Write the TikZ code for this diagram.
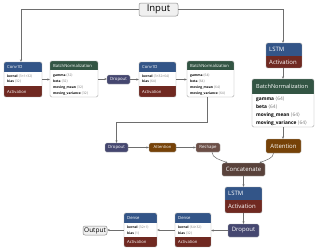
\documentclass[tikz,border=0pt]{standalone}
\usepackage{fontspec}
\setmainfont{Open Sans}
\newfontfamily\symf{DejaVu Sans}
\usetikzlibrary{arrows.meta,fit}
\definecolor{clayer}{RGB}{51,85,136}
\definecolor{cact}{RGB}{112,41,33}
\definecolor{cnorm}{RGB}{51,85,68}
\definecolor{cdrop}{RGB}{69,71,112}
\definecolor{cattn}{RGB}{118,66,8}
\definecolor{ctensor}{RGB}{89,66,59}
\definecolor{cshape}{RGB}{108,79,71}
\definecolor{cline}{RGB}{110,110,110}
\definecolor{cval}{RGB}{120,120,120}
\newcommand\la{{\symf\char"27E8}}
\newcommand\ra{{\symf\char"27E9}}
\newcommand\rw[2]{\textbf{#1}~{\color{cval}\la#2\ra}}
% name, x1, y1, x2, y2, header bottom, footer top, header colour, footer colour
\newcommand\blk[9]{%
  \coordinate (#1-nw) at (#2,#3);
  \coordinate (#1-se) at (#4,#5);
  \node[fit=(#1-nw)(#1-se), inner sep=0pt] (#1) {};
  \begin{scope}
    \clip[rounded corners=1.5pt] (#2,#3) rectangle (#4,#5);
    \fill[white] (#2,#3) rectangle (#4,#5);
    \fill[#8] (#2,#3) rectangle (#4,#6);
    \fill[#9] (#2,#7) rectangle (#4,#5);
  \end{scope}
  \draw[blkline] (#2,#3) rectangle (#4,#5);
}
\begin{document}
\begin{tikzpicture}[x=1pt,y=-1pt,
  blkline/.style={draw=black!35, line width=0.4pt, rounded corners=1.5pt},
  op/.style={rounded corners=1.5pt, text=white, inner sep=0pt, draw=black!30, line width=0.3pt},
  io/.style={rounded corners=2pt, fill=black!6, draw=black!45, line width=0.5pt, inner sep=0pt, text=black},
  hs/.style={text=white, anchor=west, inner sep=0pt, font=\fontsize{4.2}{5}\selectfont},
  hl/.style={text=white, anchor=west, inner sep=0pt, font=\fontsize{6}{7}\selectfont},
  rs/.style={anchor=west, inner sep=0pt, font=\fontsize{3.3}{4}\selectfont},
  rl/.style={anchor=west, inner sep=0pt, font=\fontsize{4.8}{6}\selectfont},
  edge/.style={draw=cline, line width=0.5pt, -{Stealth[length=2.4pt,width=2.1pt]}}]
\useasboundingbox (0,0) rectangle (319,250);
\fill[white] (0,0) rectangle (319,250);

% Input / Output
\node[io, minimum width=39pt, minimum height=13pt, font=\fontsize{9.5}{11}\selectfont] (input) at (158.5,9.5) {Input};
\node[io, minimum width=24pt, minimum height=9pt, font=\fontsize{6.5}{8}\selectfont] (output) at (95,230.5) {Output};

% Conv1D 1
\blk{conv1}{4}{62}{42}{97}{72}{86}{clayer}{cact}
\node[hs] (conv1h) at (7,67) {Conv1D};
\node[rs] (conv1r1) at (7,76.3) {\rw{kernel}{3×1×32}};
\node[rs] (conv1r2) at (7,81.7) {\rw{bias}{32}};
\node[hs] (conv1f) at (7,91.5) {Activation};

% BatchNormalization 1
\blk{bn1}{50}{61}{98}{97}{70}{97}{cnorm}{white}
\node[hs] (bn1h) at (53,65.5) {BatchNormalization};
\node[rs] (bn1r1) at (53,75.5) {\rw{gamma}{32}};
\node[rs] (bn1r2) at (53,81.3) {\rw{beta}{32}};
\node[rs] (bn1r3) at (53,87.3) {\rw{moving\_mean}{32}};
\node[rs] (bn1r4) at (53,93.3) {\rw{moving\_variance}{32}};

% Dropout 1
\node[op, fill=cdrop, minimum width=23pt, minimum height=9pt, font=\fontsize{4.3}{5}\selectfont] (drop1) at (118.5,79.5) {Dropout};

% Conv1D 2
\blk{conv2}{139}{62}{176}{97}{72}{86}{clayer}{cact}
\node[hs] (conv2h) at (142,67) {Conv1D};
\node[rs] (conv2r1) at (142,76.3) {\rw{kernel}{3×32×64}};
\node[rs] (conv2r2) at (142,81.7) {\rw{bias}{64}};
\node[hs] (conv2f) at (142,91.5) {Activation};

% BatchNormalization 2
\blk{bn2}{187}{61}{234}{97}{70}{97}{cnorm}{white}
\node[hs] (bn2h) at (190,65.5) {BatchNormalization};
\node[rs] (bn2r1) at (190,75.5) {\rw{gamma}{64}};
\node[rs] (bn2r2) at (190,81.3) {\rw{beta}{64}};
\node[rs] (bn2r3) at (190,87.3) {\rw{moving\_mean}{64}};
\node[rs] (bn2r4) at (190,93.3) {\rw{moving\_variance}{64}};

% LSTM 1
\blk{lstm1}{266}{43}{302}{68}{56}{56}{clayer}{cact}
\node[hl] (lstm1h) at (269,49.5) {LSTM};
\node[hl] (lstm1f) at (269,62) {Activation};

% BatchNormalization 3
\blk{bn3}{252}{79}{314}{127}{94}{127}{cnorm}{white}
\node[hl, font=\fontsize{5.6}{7}\selectfont] (bn3h) at (256,86.5) {BatchNormalization};
\node[rl] (bn3r1) at (256,99) {\rw{gamma}{64}};
\node[rl] (bn3r2) at (256,107) {\rw{beta}{64}};
\node[rl] (bn3r3) at (256,115) {\rw{moving\_mean}{64}};
\node[rl] (bn3r4) at (256,123) {\rw{moving\_variance}{64}};

% middle row
\node[op, fill=cdrop, minimum width=23pt, minimum height=9pt, font=\fontsize{4.3}{5}\selectfont] (drop2) at (116.5,147.5) {Dropout};
\node[op, fill=cattn, minimum width=27pt, minimum height=9pt, font=\fontsize{4.1}{5}\selectfont] (att1) at (162.5,147.5) {Attention};
\node[op, fill=cshape, minimum width=24pt, minimum height=9pt, font=\fontsize{4.3}{5}\selectfont] (reshape) at (208,147.5) {Reshape};
\node[op, fill=cattn, minimum width=35pt, minimum height=14pt, font=\fontsize{6}{7}\selectfont] (att2) at (283.5,146) {Attention};
\node[op, fill=ctensor, minimum width=43pt, minimum height=13pt, font=\fontsize{6}{7}\selectfont] (concat) at (243.5,169.5) {Concatenate};

% LSTM 2
\blk{lstm2}{225}{187}{262}{213}{200}{200}{clayer}{cact}
\node[hl] (lstm2h) at (228,193.5) {LSTM};
\node[hl] (lstm2f) at (228,206.5) {Activation};

\node[op, fill=cdrop, minimum width=31pt, minimum height=13pt, font=\fontsize{6}{7}\selectfont] (drop3) at (243.5,230.5) {Dropout};

% Dense 2
\blk{dense2}{175}{213}{211}{247}{223}{237}{clayer}{cact}
\node[hs] (dense2h) at (178,218) {Dense};
\node[rs] (dense2r1) at (178,227) {\rw{kernel}{64×32}};
\node[rs] (dense2r2) at (178,233) {\rw{bias}{32}};
\node[hs] (dense2f) at (178,242) {Activation};

% Dense 1
\blk{dense1}{124}{213}{157}{247}{223}{237}{clayer}{cact}
\node[hs] (dense1h) at (127,218) {Dense};
\node[rs] (dense1r1) at (127,227) {\rw{kernel}{32×1}};
\node[rs] (dense1r2) at (127,233) {\rw{bias}{1}};
\node[hs] (dense1f) at (127,242) {Activation};

% connectors
\draw[edge] (input.west) -| ([xshift=-2pt]conv1.north);
\draw[edge] (input.east) -| ([xshift=-1pt]lstm1.north);
\draw[edge] (conv1.east) -- (conv1.east -| bn1.west);
\draw[edge] (bn1.east) -- (bn1.east -| drop1.west);
\draw[edge] (drop1.east) -- (drop1.east -| conv2.west);
\draw[edge] (conv2.east) -- (conv2.east -| bn2.west);
\draw[edge] ([xshift=-3pt]bn2.south) -- ++(0,25) -| (drop2.north);
\draw[edge] (drop2.east) -- (att1.west);
\draw[edge] (att1.east) -- (reshape.west);
\draw[edge] ([xshift=-1pt]lstm1.south) -- ([xshift=-1pt]lstm1.south |- bn3.north);
\draw[edge] (bn3.south) -- (bn3.south |- att2.north);
\draw[edge] ([xshift=4pt]reshape.south) .. controls +(0,6) and +(-7,-3) .. ([xshift=-16pt]concat.north);
\draw[edge] ([xshift=-10pt]att2.south) .. controls +(0,5) and +(7,-3) .. ([xshift=16pt]concat.north);
\draw[edge] (concat.south) -- (lstm2.north);
\draw[edge] (lstm2.south) -- (drop3.north);
\draw[edge] (drop3.west) -- (drop3.west -| dense2.east);
\draw[edge] (dense2.west) -- (dense2.west -| dense1.east);
\draw[edge] (dense1.west) -- (dense1.west -| output.east);
\end{tikzpicture}
\end{document}
